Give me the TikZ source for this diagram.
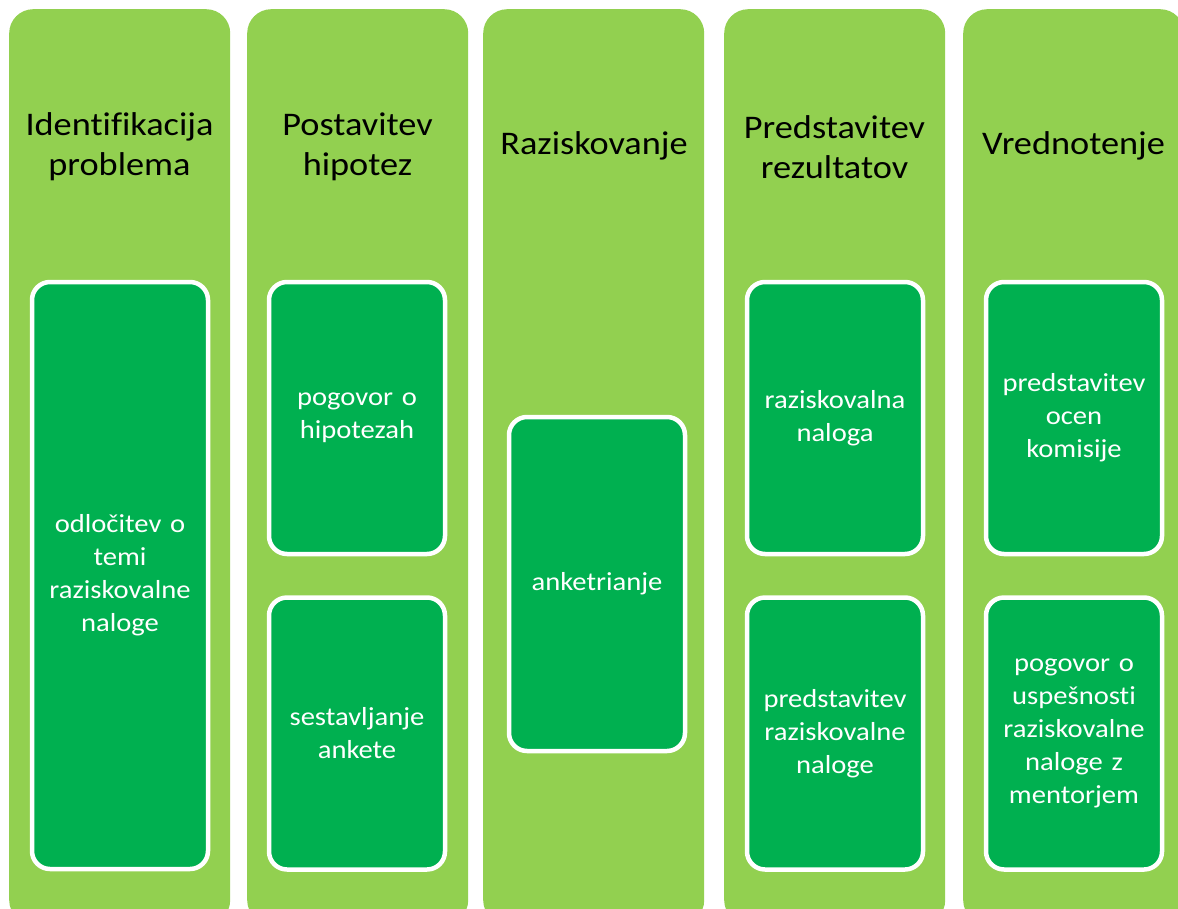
\documentclass[tikz,border=0pt]{standalone}
\usepackage{fontspec}
\setmainfont[FakeStretch=1.1, Ligatures=NoCommon]{Carlito}
\definecolor{lightg}{HTML}{92D050}
\definecolor{darkg}{HTML}{00B050}
\tikzset{
  colbox/.style={fill=lightg, draw=none, rounded corners=24pt, anchor=north west, minimum width=221pt, minimum height=915pt, inner sep=0pt},
  title/.style={font=\fontsize{33}{40}\selectfont, align=center, text=black},
  inbox/.style={fill=darkg, draw=white, line width=4.5pt, rounded corners=18pt, minimum width=176pt, text width=170pt, align=center, text=white, font=\fontsize{26}{33}\selectfont, inner sep=0pt},
}
\begin{document}
\begin{tikzpicture}[x=1pt,y=-1pt]
\useasboundingbox (0,0) rectangle (1178,908);
% columns
\node[colbox] (c1) at (9,9) {};
\node[colbox] (c2) at (247,9) {};
\node[colbox] (c3) at (483,9) {};
\node[colbox] (c4) at (724,9) {};
\node[colbox] (c5) at (963,9) {};
% titles
\node[title] (t1) at (119.5,147) {Identifikacija\\problema};
\node[title] (t2) at (357.5,147) {Postavitev\\hipotez};
\node[title] (t3) at (594,146) {Raziskovanje};
\node[title] (t4) at (834.5,147) {Predstavitev\\rezultatov};
\node[title] (t5) at (1073.5,146) {Vrednotenje};
% inner boxes
\node[inbox, minimum height=587pt] (b1) at (120,575.5) {odločitev o\\temi\\raziskovalne\\naloge};
\node[inbox, minimum height=272pt] (b2a) at (357,418) {pogovor o\\hipotezah};
\node[inbox, minimum height=272pt] (b2b) at (357,733.5) {sestavljanje\\ankete};
\node[inbox, minimum height=334pt] (b3) at (597,584) {anketrianje};
\node[inbox, minimum height=272pt] (b4a) at (835,418) {raziskovalna\\naloga};
\node[inbox, minimum height=272pt] (b4b) at (835,733.5) {predstavitev\\raziskovalne\\naloge};
\node[inbox, minimum height=272pt] (b5a) at (1074,418) {predstavitev\\ocen\\komisije};
\node[inbox, minimum height=272pt] (b5b) at (1074,733.5) {pogovor o\\uspešnosti\\raziskovalne\\naloge z\\mentorjem};
\end{tikzpicture}
\end{document}
